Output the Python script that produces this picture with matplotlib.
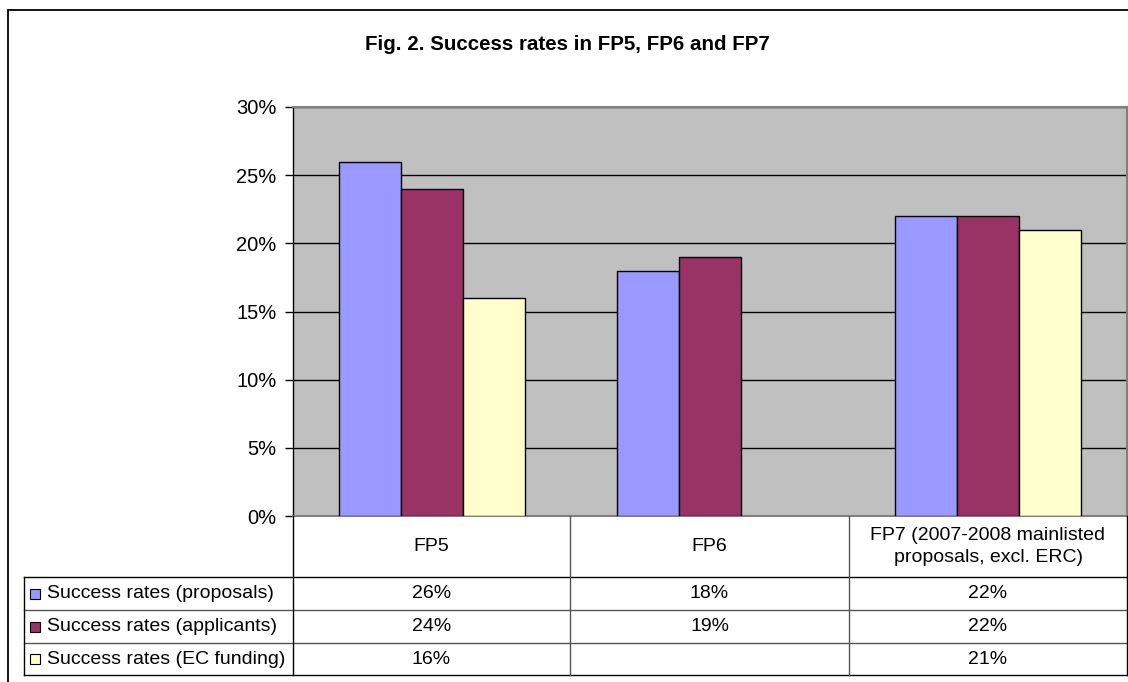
import matplotlib
matplotlib.use("Agg")
import matplotlib.pyplot as plt
from matplotlib.patches import Rectangle
from matplotlib.lines import Line2D
import numpy as np

plt.rcParams['font.family'] = ['Liberation Sans', 'DejaVu Sans']

categories = ["FP5", "FP6", "FP7 (2007-2008 mainlisted\nproposals, excl. ERC)"]
series_names = ["Success rates (proposals)", "Success rates (applicants)",
                "Success rates (EC funding)"]
proposals = [26, 18, 22]
applicants = [24, 19, 22]
ec_funding = [16, None, 21]
series = [proposals, applicants, ec_funding]
colors = ["#9999FF", "#993366", "#FFFFCC"]

W, H = 1128, 682
fig = plt.figure(figsize=(W / 100, H / 100), dpi=100)


def fx(x):
    return x / W


def fy(y):
    return 1 - y / H


# outer chart frame
fig.patches.append(Rectangle((fx(8), -0.2), 1.2, fy(10) + 0.2, transform=fig.transFigure,
                             fill=False, edgecolor="black", linewidth=1.3))

left, right, top, bottom = 293, 1127, 107, 516
ax = fig.add_axes([fx(left), fy(bottom), fx(right - left), fy(top) - fy(bottom)])
ax.set_facecolor("#C0C0C0")

x = np.arange(len(categories))
w = 0.222
for i, (vals, col) in enumerate(zip(series, colors)):
    for xi, v in zip(x, vals):
        if v is None:
            continue
        ax.bar(xi + (i - 1) * w, v, width=w, color=col, edgecolor="black",
               linewidth=1.0, zorder=3)

ax.set_xlim(-0.5, 2.5)
ax.set_ylim(0, 30)
ax.set_yticks(range(0, 31, 5))
ax.set_yticklabels([f"{t}%" for t in range(0, 31, 5)], fontsize=14.5)
ax.set_xticks([])
ax.tick_params(axis="y", length=6, width=1, color="black", pad=6)
ax.yaxis.grid(True, color="black", linewidth=1)
ax.set_axisbelow(True)
for s in ["top", "right", "bottom"]:
    ax.spines[s].set_color("#808080")
    ax.spines[s].set_linewidth(1.5)
ax.spines["left"].set_color("black")
ax.spines["left"].set_linewidth(1)

fig.text(fx(567), fy(45), "Fig. 2. Success rates in FP5, FP6 and FP7",
         ha="center", va="center", fontsize=14.8, fontweight="bold")

# data table below the plot
col_edges = [293, 570, 849, 1127]
row_edges = [516, 577, 610, 643, 675]
leg_left = 24


def hline(y, x0, x1, color="black", lw=1.0):
    fig.add_artist(Line2D([fx(x0), fx(x1)], [fy(y), fy(y)], transform=fig.transFigure,
                          color=color, linewidth=lw))


def vline(xp, y0, y1, color="black", lw=1.0):
    fig.add_artist(Line2D([fx(xp), fx(xp)], [fy(y0), fy(y1)], transform=fig.transFigure,
                          color=color, linewidth=lw))


hline(row_edges[1], leg_left, col_edges[-1])
hline(row_edges[2], leg_left, col_edges[-1], color="#555555")
hline(row_edges[3], leg_left, col_edges[-1], color="#555555")
hline(row_edges[4], leg_left, col_edges[-1])
vline(leg_left, row_edges[1], row_edges[4])
vline(col_edges[0], row_edges[0], row_edges[4])
vline(col_edges[1], row_edges[0], row_edges[4], color="#555555")
vline(col_edges[2], row_edges[0], row_edges[4], color="#555555")
vline(col_edges[3], row_edges[0], row_edges[4])

for j, cat in enumerate(categories):
    cx = (col_edges[j] + col_edges[j + 1]) / 2
    cy = (row_edges[0] + row_edges[1]) / 2
    fig.text(fx(cx), fy(cy), cat, ha="center", va="center", fontsize=14,
             linespacing=1.45)

for i, (name, vals, col) in enumerate(zip(series_names, series, colors)):
    cy = (row_edges[i + 1] + row_edges[i + 2]) / 2
    fig.patches.append(Rectangle((fx(30), fy(cy + 5)), fx(10), fy(cy - 5) - fy(cy + 5),
                                 transform=fig.transFigure, facecolor=col,
                                 edgecolor="black", linewidth=0.8))
    fig.text(fx(47), fy(cy), name, ha="left", va="center", fontsize=14)
    for j, v in enumerate(vals):
        if v is None:
            continue
        cx = (col_edges[j] + col_edges[j + 1]) / 2
        fig.text(fx(cx), fy(cy), f"{v}%", ha="center", va="center", fontsize=14)

fig.savefig("out.png", dpi=100)
